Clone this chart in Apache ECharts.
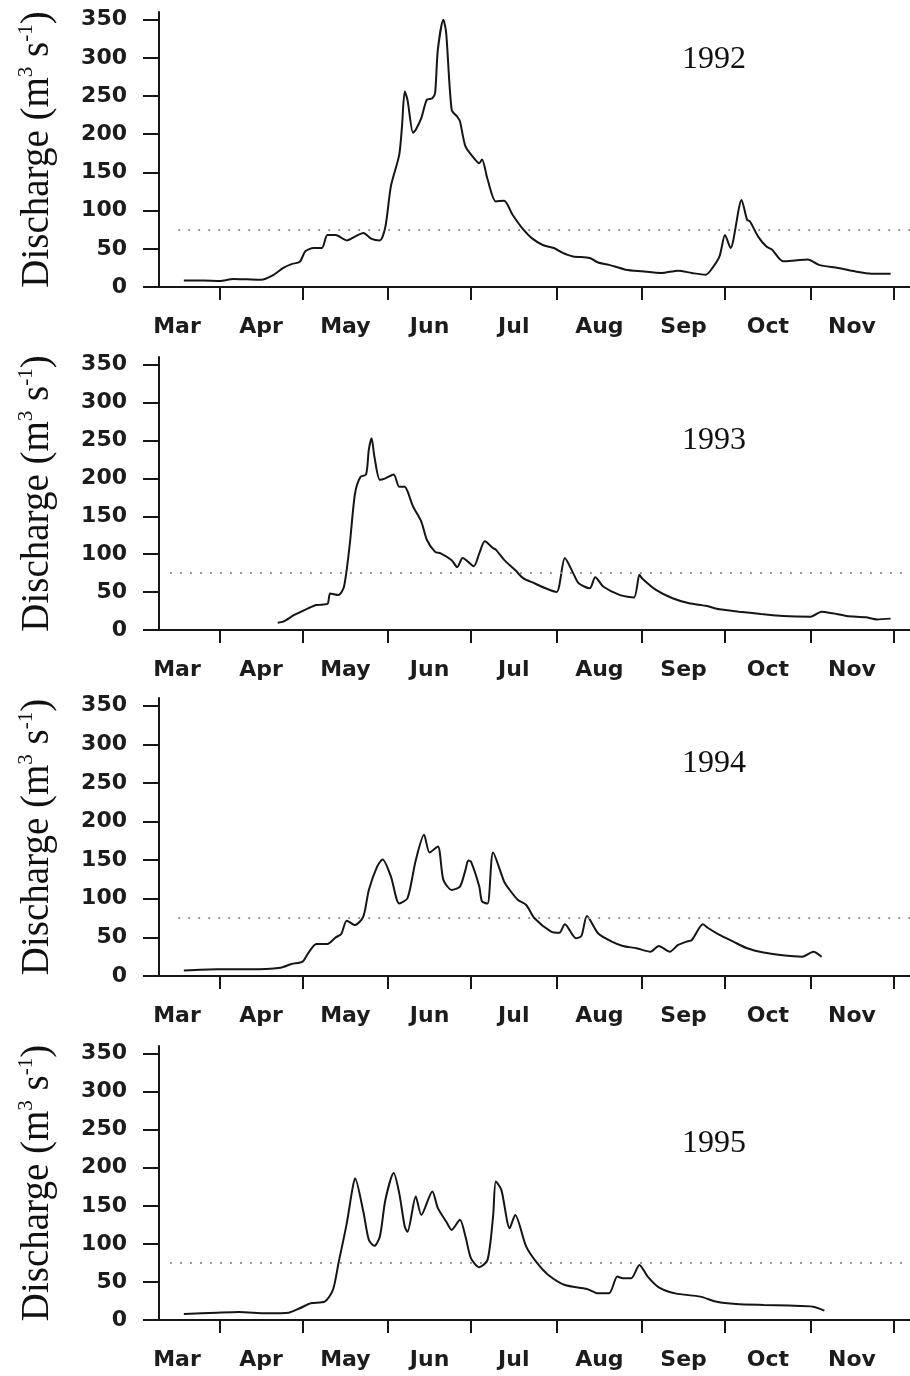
<!DOCTYPE html>
<html>
<head>
<meta charset="utf-8">
<title>Daily discharge, March–November 1992–1995</title>
<script src="https://cdn.jsdelivr.net/npm/echarts@6/dist/echarts.min.js"></script>
<style>
  html, body { margin: 0; padding: 0; background: #ffffff; }
  #chart { width: 910px; height: 1376px; }
</style>
</head>
<body>
<div id="chart"></div>
<script>
// Days are counted from 1 March (day 0).
const monthNames  = ['Mar', 'Apr', 'May', 'Jun', 'Jul', 'Aug', 'Sep', 'Oct', 'Nov'];
const monthMiddle = [15.5, 46, 76.5, 107, 137.5, 168.5, 199, 229.5, 260];
const monthStarts = [31, 61, 92, 122, 153, 184, 214, 245, 275];
const dischargeTicks = [0, 50, 100, 150, 200, 250, 300, 350];
const years = ['1992', '1993', '1994', '1995'];
const referenceLevel = 75;                 // dotted reference discharge
const referenceFrom = [16, 13, 16, 13];    // first day of the dotted line per year

// 1992
const days1992 = [18, 25, 31, 36, 41, 46, 50, 54, 57, 60, 62, 65, 68, 70, 73, 77, 80, 83, 86, 89, 91,
  93, 96, 97, 98, 99, 101, 102, 104, 106, 108, 109, 110, 112, 113, 115, 117, 118, 120, 123, 125, 126,
  128, 131, 134, 137, 141, 144, 148, 152, 155, 159, 165, 168, 172, 178, 184, 191, 197, 202, 207, 209,
  212, 214, 216, 220, 222, 223, 226, 229, 231, 235, 240, 244, 248, 255, 261, 267, 274];
const flow1992 = [8.5, 8.5, 8, 10.5, 10, 9.5, 14.8, 25, 30, 33, 46.7, 51, 51, 68, 68, 61, 66, 70.7, 63, 61, 79,
  132, 173, 210, 256, 245, 202, 206, 221, 245, 247, 254, 311, 350, 333, 232, 223, 217, 184, 169, 162, 167,
  141, 112, 113, 95, 75, 64, 55, 51, 45, 40, 38, 32, 29, 22.7, 20.5, 18.3, 21.4, 18.3, 16, 22.7,
  40, 68, 51, 114, 88, 86, 66, 53, 49, 33.6, 35, 36, 29, 25, 20.5, 17.5, 17.5];

// 1993
const days1993 = [52, 54, 58, 63, 66, 70, 71, 74, 76, 78, 80, 82, 84, 85, 86, 87, 89, 91, 94, 96, 98, 99,
  101, 104, 106, 109, 111, 115, 117, 119, 123, 125, 127, 130, 131, 134, 138, 141, 145, 149, 153, 156,
  159, 161, 165, 167, 170, 176, 181, 183, 184, 189, 195, 201, 207, 212, 219, 227, 235, 245, 249, 253,
  258, 265, 269, 274];
const flow1993 = [9.7, 11, 19.8, 28.6, 33, 34.3, 48, 46, 57, 110, 180, 202, 205, 238, 253, 229, 198, 200, 205, 189, 189, 183,
  163, 143, 119, 103, 101, 92, 83, 95, 84, 101, 117, 108, 106, 92.5, 79, 68, 61.6, 55, 50, 95,
  75, 61.6, 55, 69.6, 57, 46, 43, 72.7, 68, 52.8, 41.8, 35.2, 32, 27.3, 24.2, 21.1, 18.5, 17.6, 24.2, 22,
  18.5, 16.7, 14, 15];

// 1994
const days1994 = [18, 30, 42, 53, 57, 61, 63, 66, 70, 73, 75, 77, 80, 83, 85, 88, 90, 93, 96, 99, 102, 105,
  107, 110, 112, 115, 118, 120, 121, 122, 125, 126, 128, 130, 134, 136, 139, 142, 145, 151, 154, 156,
  160, 162, 164, 168, 173, 177, 182, 187, 190, 194, 197, 200, 202, 206, 208, 212, 217, 222, 228, 234,
  242, 246, 249];
const flow1994 = [7, 8.6, 8.6, 10.8, 15.6, 18.6, 29.4, 41.5, 41.5, 50, 54.4, 71.7, 66, 77, 111.5, 141.7, 151, 128.8, 94, 100.7, 150, 182.8,
  160, 167.7, 124.5, 111.5, 115.8, 137.4, 149.5, 148, 115.8, 96.4, 94, 160, 122.3, 111.5, 98.5, 92, 74.8, 57.5, 56, 67,
  48.8, 51.9, 77.8, 55.3, 44.5, 38.9, 35.9, 31.5, 38.9, 31.5, 40.2, 44.5, 46.7, 67, 61.8, 53.2, 44.5, 35.9, 30.3, 27.2,
  25, 31.5, 25];

// 1995
const days1995 = [18, 30, 38, 48, 56, 60, 64, 69, 72, 74, 77, 79, 80, 83, 85, 87, 89, 91, 94, 96, 98, 99,
  102, 104, 108, 110, 113, 115, 118, 120, 122, 125, 128, 130, 131, 133, 136, 138, 142, 146, 150, 156,
  164, 168, 172, 175, 177, 180, 183, 186, 190, 196, 205, 211, 218, 228, 237, 246, 250];
const flow1995 = [7.9, 9.6, 10.5, 8.8, 9.6, 15.4, 22, 24, 39.5, 74.6, 127, 171, 186.4, 142.5, 105.3, 97.4, 109.6, 158, 193, 166.7, 122.8, 116,
  162.3, 138, 168.9, 147, 129.4, 118.4, 131.6, 109.6, 81, 69.3, 79, 136, 182, 171, 120.6, 138, 96.5, 74.6, 59.2, 46,
  40.8, 35, 35, 57, 54.8, 54.8, 72.4, 57, 43, 35, 30.7, 24, 21, 19.7, 18.9, 17.5, 12.3];

const seriesDays = [days1992, days1993, days1994, days1995];
const seriesFlow = [flow1992, flow1993, flow1994, flow1995];

// panel geometry (pixels)
const panelTop = [12, 357, 698, 1046];
const panelHeight = [275, 273, 278, 274];
const yearLabelY = [60, 441, 764, 1144];

const axisColor = '#161616';
const sansFont = 'DejaVu Sans';
const serifFont = 'Liberation Serif';

const chart = echarts.init(document.getElementById('chart'), null, { renderer: 'canvas' });

const grids = [], xAxes = [], yAxes = [], series = [], graphics = [];

years.forEach(function (year, i) {
  grids.push({ left: 159, right: 0, top: panelTop[i], height: panelHeight[i], containLabel: false });

  xAxes.push({
    gridIndex: i,
    type: 'value',
    min: 9,
    max: 281,
    axisLine: { show: true, onZero: false, lineStyle: { color: axisColor, width: 2 } },
    axisTick: {
      show: true, inside: false, length: 13,
      customValues: monthStarts,
      lineStyle: { color: axisColor, width: 2 }
    },
    axisLabel: {
      show: true,
      customValues: monthMiddle,
      margin: 29,
      fontFamily: sansFont,
      fontWeight: 'bold',
      fontSize: 22,
      color: '#1c1c1c',
      formatter: function (v) {
        const k = monthMiddle.indexOf(v);
        return k >= 0 ? monthNames[k] : '';
      }
    },
    splitLine: { show: false }
  });

  yAxes.push({
    gridIndex: i,
    type: 'value',
    min: 0,
    max: 360,
    axisLine: { show: true, lineStyle: { color: axisColor, width: 2 } },
    axisTick: {
      show: true, inside: false, length: 16,
      customValues: dischargeTicks,
      lineStyle: { color: axisColor, width: 2 }
    },
    axisLabel: {
      show: true,
      customValues: dischargeTicks,
      margin: 32,
      fontFamily: sansFont,
      fontWeight: 'bold',
      fontSize: 22,
      color: '#1c1c1c'
    },
    splitLine: { show: false },
    name: '{t|Discharge (m}{u|3}{t| s}{u|-1}{t|)}',
    nameLocation: 'middle',
    nameRotate: 90,
    nameGap: 99,
    nameTextStyle: {
      rich: {
        t: { fontFamily: serifFont, fontSize: 39, lineHeight: 44, color: '#111' },
        u: { fontFamily: serifFont, fontSize: 21, lineHeight: 10, verticalAlign: 'top', color: '#111' }
      }
    }
  });

  const pts = seriesDays[i].map(function (d, k) { return [d, seriesFlow[i][k]]; });

  series.push({
    name: year,
    type: 'line',
    xAxisIndex: i,
    yAxisIndex: i,
    data: pts,
    showSymbol: false,
    smooth: 0.25,
    lineStyle: { color: '#151515', width: 2 },
    silent: true,
    animation: false,
    markLine: {
      silent: true,
      symbol: 'none',
      label: { show: false },
      lineStyle: { color: '#8f8f8f', width: 1.8, type: [1.8, 8.2] },
      data: [[{ coord: [referenceFrom[i], referenceLevel] }, { coord: [281, referenceLevel] }]]
    }
  });

  graphics.push({
    type: 'text',
    x: 714,
    y: yearLabelY[i],
    style: {
      text: year,
      font: '32px "' + serifFont + '"',
      fill: '#111',
      align: 'center',
      verticalAlign: 'middle'
    }
  });
});

chart.setOption({
  backgroundColor: '#ffffff',
  animation: false,
  grid: grids,
  xAxis: xAxes,
  yAxis: yAxes,
  series: series,
  graphic: graphics
});
</script>
</body>
</html>
